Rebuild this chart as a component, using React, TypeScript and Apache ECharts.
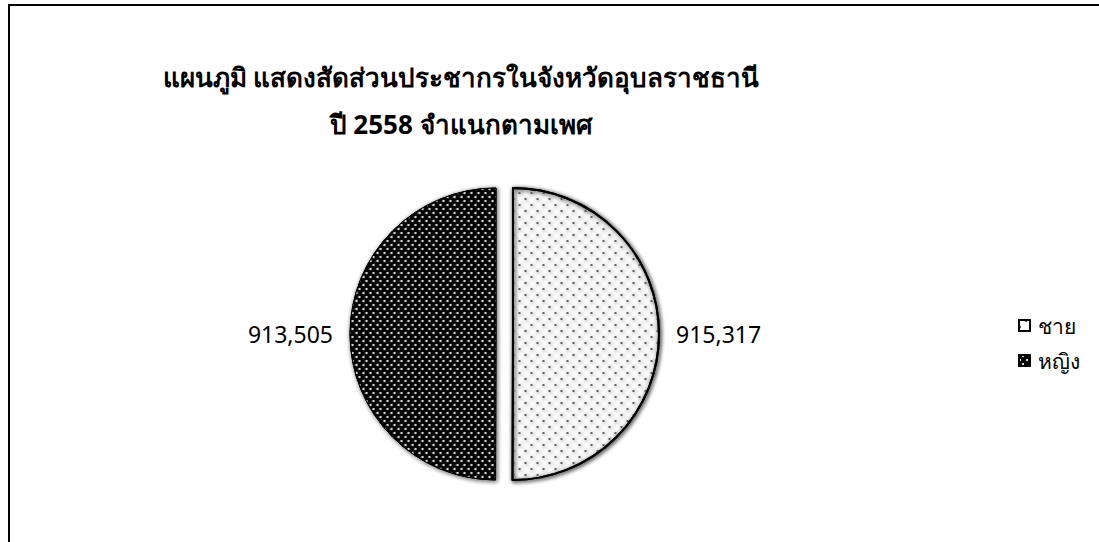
import React, { useEffect, useRef } from "react";
import * as echarts from "echarts";

const categories = ["ชาย", "หญิง"];
const populationValues = [915317, 913505];
const titleLines = ["แผนภูมิ แสดงสัดส่วนประชากรในจังหวัดอุบลราชธานี", "ปี 2558 จำแนกตามเพศ"];

const FONT = "'Noto Sans', 'Liberation Sans', sans-serif";

export default function App() {
  const ref = useRef<HTMLDivElement>(null);
  useEffect(() => {
    if (!ref.current) return;
    const chart = echarts.init(ref.current, null, { renderer: "svg" });
    const styles = [
      {
        color: "#ffffff",
        borderColor: "#000000",
        borderWidth: 2,
        decal: {
          symbol: "circle",
          symbolSize: 1,
          color: "#444444",
          backgroundColor: "#ffffff",
          dashArrayX: [[2, 10], [0, 6, 2, 4]],
          dashArrayY: [2, 4],
          rotation: 0,
        },
      },
      {
        color: "#000000",
        borderColor: "#000000",
        borderWidth: 1,
        decal: {
          symbol: "circle",
          symbolSize: 1,
          color: "#ffffff",
          backgroundColor: "#000000",
          dashArrayX: [[2, 5], [0, 3, 2, 2]],
          dashArrayY: [2, 2],
          rotation: 0,
        },
      },
    ];
    chart.setOption({
      animation: false,
      backgroundColor: "#ffffff",
      title: {
        text: titleLines.join("\n"),
        left: 456,
        top: 48,
        textAlign: "center",
        textStyle: {
          fontFamily: FONT,
          fontSize: 26,
          fontWeight: "bold",
          color: "#000000",
          lineHeight: 47,
          align: "center",
        },
      },
      legend: {
        orient: "vertical",
        left: 1013,
        top: 310,
        itemWidth: 11,
        itemHeight: 11,
        itemGap: 14,
        icon: "rect",
        data: categories,
        textStyle: { fontFamily: FONT, fontSize: 21, color: "#000000", padding: [0, 0, 0, 3] },
      },
      graphic: [
        {
          type: "rect",
          shape: { x: 9, y: 5, width: 1300, height: 800 },
          style: { fill: "none", stroke: "#000000", lineWidth: 2 },
          silent: true,
        },
      ],
      series: [
        {
          type: "pie",
          center: [504.5, 334],
          radius: 146,
          startAngle: 90,
          clockwise: true,
          selectedMode: "multiple",
          selectedOffset: 8.5,
          legendHoverLink: false,
          label: {
            show: true,
            position: "outside",
            fontFamily: FONT,
            fontSize: 23,
            color: "#000000",
            formatter: (p: any) => Number(p.value).toLocaleString("en-US"),
          },
          labelLine: { show: false, length: 8, length2: 4 },
          emphasis: { disabled: true },
          data: categories.map((name, i) => ({
            name,
            value: populationValues[i],
            selected: true,
            itemStyle: {
              ...styles[i],
              shadowBlur: 4,
              shadowColor: "rgba(0,0,0,0.35)",
              shadowOffsetX: 1,
              shadowOffsetY: 1,
            },
          })),
        },
      ],
    });
    return () => chart.dispose();
  }, []);
  return (
    <div
      ref={ref}
      style={{ position: "fixed", left: 0, top: 0, width: 1099, height: 542 }}
    />
  );
}
